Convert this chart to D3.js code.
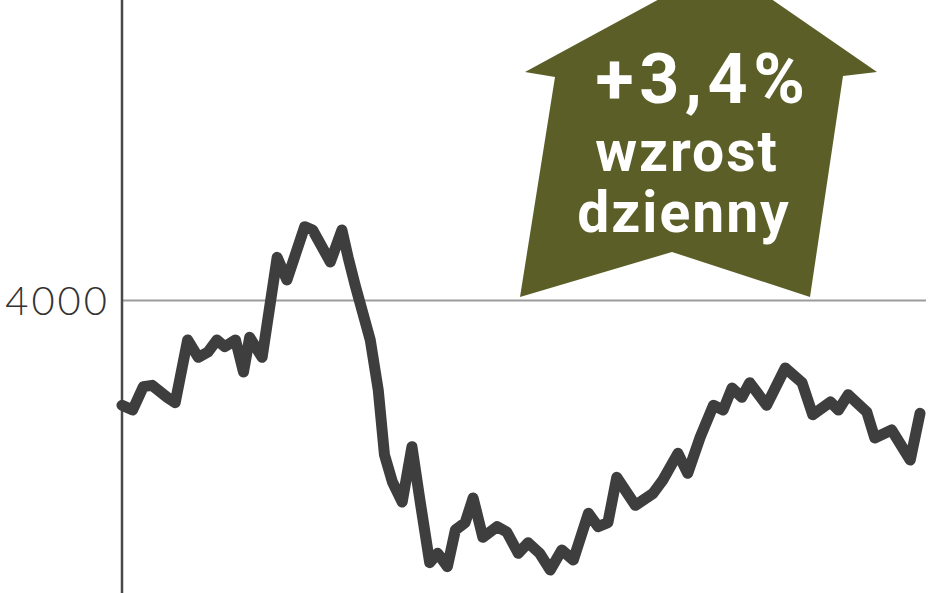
<!DOCTYPE html>
<html>
<head>
<meta charset="utf-8">
<script src="https://cdn.jsdelivr.net/npm/d3@7"></script>
<style>
  html, body { margin: 0; padding: 0; background: #fff; }
  svg { display: block; }
</style>
</head>
<body>
<div class="canvas"></div>
<script>
// trading day and index value
var days = [0, 1.2, 2.4, 3.4, 5.1, 6.0, 7.4, 8.6, 9.7, 10.7, 11.6, 12.8, 13.7, 14.4, 15.8,
  17.5, 18.6, 20.6, 21.5, 23.5, 24.8, 25.5, 26.3, 28.0, 28.9, 29.6, 30.5, 31.6, 32.7,
  33.6, 34.7, 35.6, 36.7, 37.6, 38.7, 39.6, 40.7, 42.3, 43.4, 44.7, 45.8, 47.1, 48.3,
  49.6, 50.9, 52.6, 53.7, 54.8, 55.8, 57.9, 59.9, 61.0, 62.7, 63.8, 65.2, 66.7, 67.8,
  68.8, 69.9, 70.8, 72.7, 74.8, 76.7, 77.9, 79.9, 80.8, 81.9, 84.0, 84.9, 86.8, 88.9, 90];
var values = [3842, 3835, 3870, 3872, 3854, 3846, 3940, 3914, 3922, 3940, 3930, 3940, 3892,
  3944, 3914, 4064, 4030, 4110, 4105, 4057, 4105, 4064, 4022, 3940, 3865, 3768, 3727,
  3697, 3780, 3700, 3606, 3620, 3600, 3655, 3666, 3703, 3644, 3660, 3652, 3620, 3636,
  3620, 3595, 3625, 3610, 3680, 3660, 3666, 3734, 3692, 3710, 3730, 3770, 3740, 3794,
  3842, 3835, 3868, 3854, 3876, 3842, 3898, 3876, 3828, 3847, 3835, 3858, 3832, 3793,
  3805, 3760, 3830];
var yTicks = [4000];
var yTickLabels = ["4000"];
var badgeLines = ["+3,4%", "wzrost", "dzienny"];

var width = 948;   // szerokość
var height = 593;  // wysokość

var svg = d3.select(".canvas")
  .append("svg")
    .attr("width", width)
    .attr("height", height);

var xscale = d3.scaleLinear()
  .domain([0, 90])
  .range([122, 920]);

var yscale = d3.scaleLinear()
  .domain([3550, 4450])
  .range([600, 0]);

// oś Y z linią siatki
var yaxis = d3.axisLeft(yscale)
  .tickValues(yTicks)
  .tickFormat(function(d, i) { return yTickLabels[i]; })
  .tickSize(-(926 - 122))
  .tickPadding(12);

var ag = svg.append("g")
  .attr("transform", "translate(122,0)")
  .call(yaxis);
ag.select(".domain").remove();
ag.selectAll(".tick line")
  .attr("stroke", "#9c9c9c")
  .attr("stroke-width", 2);
ag.selectAll(".tick text")
  .attr("fill", "#333")
  .attr("dy", "0.37em")
  .style("font-family", "Lato, 'Open Sans', sans-serif")
  .style("font-weight", 300)
  .style("font-size", "40px")
  .style("letter-spacing", "3px");

// pionowa oś
svg.append("line")
  .attr("x1", 122).attr("x2", 122)
  .attr("y1", 0).attr("y2", height)
  .attr("stroke", "#4a4a4a")
  .attr("stroke-width", 2.5);

// strzałka
var arrow = svg.append("g");
arrow.append("path")
  .attr("d", "M722,-35 L877,72 L843,76 L810,297 L672,252 L520,297 L555,77 L525,72 Z")
  .attr("fill", "#5b5f27");

arrow.selectAll("text")
  .data(badgeLines)
  .enter()
  .append("text")
    .attr("x", function(d, i) { return [703, 687, 684][i]; })
    .attr("y", function(d, i) { return [103, 171, 232][i]; })
    .attr("text-anchor", "middle")
    .attr("fill", "#fff")
    .style("font-family", "Roboto, sans-serif")
    .style("font-weight", 700)
    .style("font-size", function(d, i) { return i == 0 ? "70px" : "57px"; })
    .style("letter-spacing", function(d, i) { return i == 0 ? "5.5px" : "2px"; })
    .text(function(d) { return d; });

// linia indeksu
var line = d3.line()
  .x(function(d, i) { return xscale(days[i]); })
  .y(function(d) { return yscale(d); });

svg.append("path")
  .datum(values)
  .attr("d", line)
  .attr("fill", "none")
  .attr("stroke", "#3e3e3e")
  .attr("stroke-width", 11)
  .attr("stroke-linejoin", "round")
  .attr("stroke-linecap", "round");
</script>
</body>
</html>
